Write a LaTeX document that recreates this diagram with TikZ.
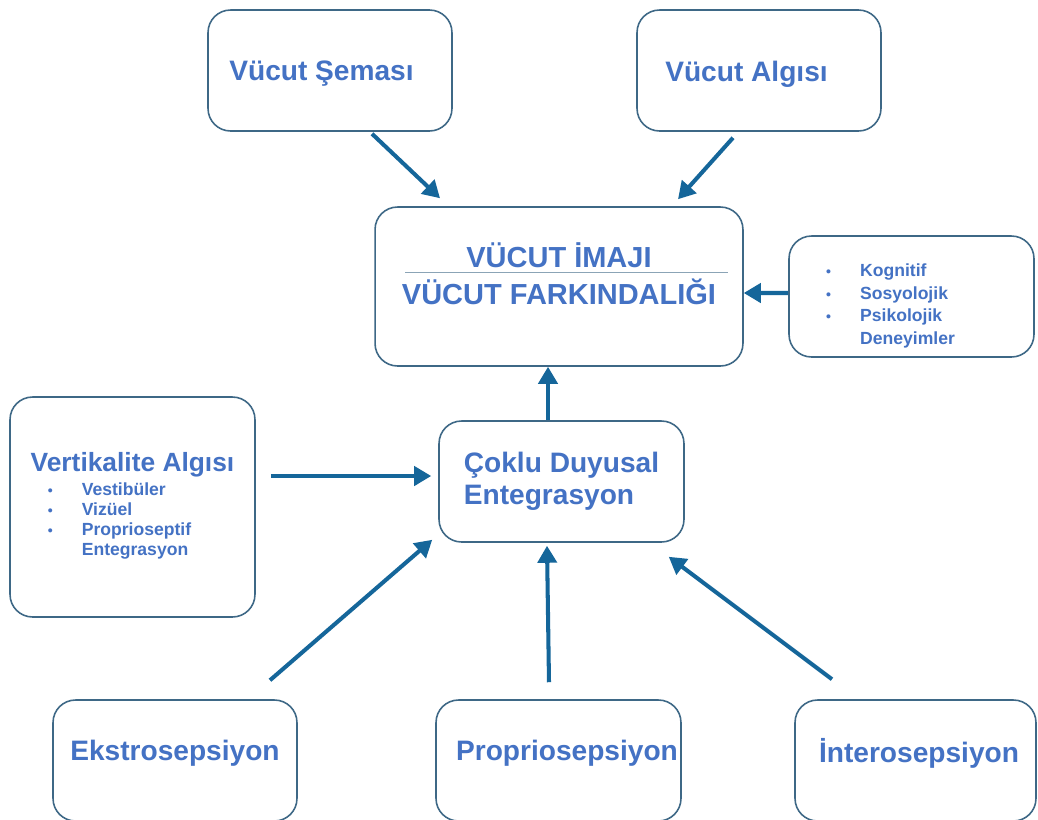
\documentclass[tikz,border=0pt]{standalone}
\usepackage{fontspec}
\setmainfont{Liberation Sans}
\usetikzlibrary{positioning, calc, arrows.meta}
\definecolor{textblue}{RGB}{68,114,196}
\definecolor{arrowblue}{RGB}{21,102,154}
\definecolor{frame}{RGB}{62,104,134}
\newcommand{\bigtxt}{\fontsize{16}{19}\selectfont\bfseries}
\newcommand{\smalltxt}{\fontsize{10}{13}\selectfont\bfseries}
\newcommand{\dotitem}{{\fontsize{8}{10}\selectfont\textbullet}}

\begin{document}
\begin{tikzpicture}[x=0.02cm, y=-0.02cm,
    box/.style={draw=frame, line width=0.9pt, rounded corners=0.45cm, fill=white, minimum width=4.9cm, minimum height=2.42cm},
    txt/.style={text=textblue, align=center, font=\bigtxt},
    flow/.style={draw=arrowblue, line width=2.3pt, -{Triangle[length=0.34cm, width=0.38cm]}}]
    \fill[white] (0,0) rectangle (1038,819);
    \useasboundingbox (0,0) rectangle (1038,819);

    % Top boxes
    \node[box, minimum width=4.88cm, label={[txt, xshift=-0.17cm, yshift=-0.07cm]center:Vücut Şeması}] (sema) at (330,70.5) {};
    \node[box, minimum width=4.88cm, label={[txt, xshift=-0.25cm, yshift=-0.07cm]center:Vücut Algısı}] (algi) at (759,70.5) {};

    % Body image box
    \node[box, minimum width=7.36cm, minimum height=3.18cm, label={[txt, font=\fontsize{16.5}{21}\selectfont\bfseries, yshift=0.25cm]center:VÜCUT İMAJI\\VÜCUT FARKINDALIĞI}] (imaj) at (559,286.5) {};
    \draw[frame!60, line width=0.7pt] ($(imaj.center)+(-154,-14)$) -- ($(imaj.center)+(169,-14)$);

    % Experiences box
    \node[box, label={[txt, font=\smalltxt, xshift=-0.42cm, yshift=-0.19cm]center:\begin{tabular}{@{}p{0.68cm}@{}l@{}}\dotitem & Kognitif\\ \dotitem & Sosyolojik\\ \dotitem & Psikolojik\\ & Deneyimler\end{tabular}}] (deney) at (911.5,296.5) {};

    % Multisensory integration box
    \node[box, txt, align=left] (coklu) at (561.5,481.5) {Çoklu Duyusal\\[-0.5pt]Entegrasyon};

    % Verticality box
    \node[box, txt, minimum height=4.4cm, font=\fontsize{10}{11.5}\selectfont\bfseries] (vert) at (132.5,507) {{\fontsize{15}{18}\selectfont Vertikalite Algısı}\\[2pt]\begin{tabular}[t]{@{}p{0.68cm}@{}l@{\hspace{0.52cm}}}\dotitem & Vestibüler\\ \dotitem & Vizüel\\ \dotitem & Proprioseptif\\ & Entegrasyon\end{tabular}};

    % Bottom boxes
    \node[box, minimum width=4.88cm, label={[txt, yshift=0.14cm]center:Ekstrosepsiyon}] (ekstro) at (175,760.5) {};
    \node[box, label={[txt, xshift=0.17cm, yshift=0.14cm]center:Propriosepsiyon}] (proprio) at (558.5,760.5) {};
    \node[box, minimum width=4.82cm, label={[txt, xshift=0.07cm, yshift=0.14cm]center:İnterosepsiyon}] (intero) at (915.5,760.5) {};

    % Arrows
    \draw[flow] ($(sema.south)+(42,2)$) -- ($(imaj.north)+(-119,-8)$);
    \draw[flow] ($(algi.south)+(-26,6)$) -- ($(imaj.north)+(119,-7)$);
    \draw[flow] ($(deney.west)+(0,-3.5)$) -- ($(imaj.east)+(0,6.5)$);
    \draw[flow] ($(coklu.north)+(-13.5,0)$) -- ($(imaj.south)+(-11,0)$);
    \draw[flow] ($(vert.east)+(15,-31)$) -- ($(coklu.west)+(-7,-5.5)$);
    \draw[flow] ($(ekstro.north)+(95,-19)$) -- ($(coklu.south west)+(-6,-3)$);
    \draw[flow] ($(proprio.north)+(-9.5,-17)$) -- ($(coklu.south)+(-14.5,3)$);
    \draw[flow] ($(intero.north)+(-83.5,-20)$) -- ($(coklu.south east)+(-16,14)$);
\end{tikzpicture}
\end{document}
